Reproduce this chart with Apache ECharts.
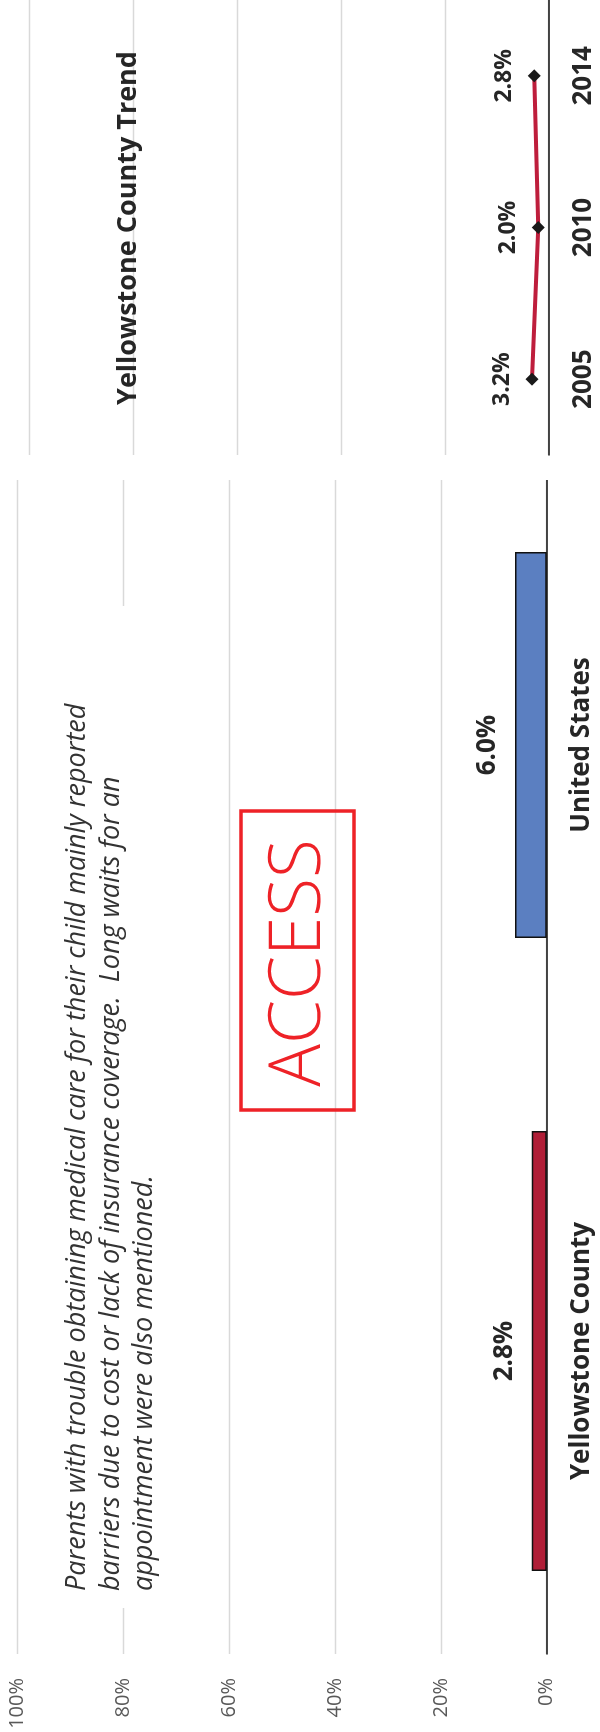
<!DOCTYPE html>
<html>
<head>
<meta charset="utf-8">
<script src="https://cdn.jsdelivr.net/npm/echarts@6/dist/echarts.min.js"></script>
<style>
  html, body { margin: 0; padding: 0; background: #fff; overflow: hidden; }
  #wrap { position: relative; width: 600px; height: 1732px; overflow: hidden; }
  /* chart is laid out landscape and turned a quarter turn counter-clockwise */
  #chart {
    position: absolute; left: 0; top: 0;
    width: 1732px; height: 600px;
    transform-origin: 0 0;
    transform: translateY(1732px) rotate(-90deg);
  }
</style>
</head>
<body>
<div id="wrap"><div id="chart"></div></div>
<script>
const categories = ['Yellowstone County', 'United States']
const barValues = [2.8, 6.0]
const barColors = ['#B01E37', '#5B7FC1']
const barWidths = [440, 386]

const trendYears = ['2005', '2010', '2014']
const trendValues = [3.2, 2.0, 2.8]

const noteLines = [
    'Parents with trouble obtaining medical care for their child mainly reported',
    'barriers due to cost or lack of insurance coverage.  Long waits for an',
    'appointment were also mentioned.',
]

const FONT = '"Open Sans", "Segoe UI", sans-serif'
const pct = (v) => v.toFixed(1) + '%'

const chart = echarts.init(document.getElementById('chart'), null, { renderer: 'canvas' })

const boldLabel = (size) => ({ fontFamily: FONT, fontWeight: 'bold', fontSize: size, color: '#262626' })

const barSeries = barValues.map((value, i) => ({
    type: 'bar',
    xAxisIndex: i,
    yAxisIndex: 0,
    barWidth: barWidths[i],
    z: 2,
    data: barValues.map((v, j) => (j === i ? v : '-')),
    itemStyle: { color: barColors[i], borderColor: '#111', borderWidth: 1.5 },
    label: {
        show: true,
        position: 'top',
        distance: 14,
        formatter: (p) => pct(p.value),
        ...boldLabel(26),
    },
    silent: true,
}))

const gridLine = { lineStyle: { color: '#d9d9d9', width: 1.3 } }

const option = {
    animation: false,
    backgroundColor: '#fff',
    title: {
        text: 'Yellowstone County Trend',
        left: 1504,
        top: 115,
        padding: 0,
        textAlign: 'center',
        textStyle: boldLabel(27),
    },
    grid: [
        { left: 78, width: 1212, top: 17.2, bottom: 53.3 },
        { left: 1277, width: 456, top: 29.7, bottom: 51.3 },
    ],
    xAxis: [
        {
            type: 'category', gridIndex: 0, data: categories,
            axisLine: { lineStyle: { color: '#111', width: 1.5 } },
            axisTick: { show: false },
            axisLabel: { margin: 22, ...boldLabel(26) },
        },
        { type: 'category', gridIndex: 0, data: categories, show: false },
        {
            type: 'category', gridIndex: 1, data: trendYears, z: 5,
            axisLine: { lineStyle: { color: '#111', width: 1.5 } },
            axisTick: { show: false },
            axisLabel: { margin: 22, ...boldLabel(26) },
        },
    ],
    yAxis: [
        {
            type: 'value', gridIndex: 0, min: 0, max: 100, interval: 20,
            axisLine: { show: false }, axisTick: { show: false },
            axisLabel: { formatter: '{value}%', margin: 24, fontFamily: FONT, fontSize: 20, color: '#595959' },
            splitLine: gridLine,
        },
        {
            type: 'value', gridIndex: 1, min: 0, max: 100, interval: 20, z: 5,
            axisLine: { show: false }, axisTick: { show: false },
            axisLabel: { show: false },
            splitLine: gridLine,
        },
    ],
    graphic: [
        // the trend panel sits on its own white card over the bar chart
        {
            type: 'rect', z: 3,
            shape: { x: 1252, y: 0, width: 480, height: 600 },
            style: { fill: '#fff' },
        },
        // white note panel hides the gridline behind it
        {
            type: 'rect', z: 50,
            shape: { x: 124, y: 45, width: 1002, height: 125 },
            style: { fill: '#fff' },
        },
        {
            type: 'text', z: 51, x: 141, y: 61,
            style: {
                text: noteLines.join('\n'),
                font: 'italic 27px ' + FONT,
                lineHeight: 33.5,
                fill: '#333',
            },
        },
        {
            type: 'rect', z: 50,
            shape: { x: 622, y: 241, width: 299, height: 113 },
            style: { fill: 'none', stroke: '#EE2227', lineWidth: 3.5 },
        },
        {
            type: 'text', z: 51, x: 769, y: 300,
            style: {
                text: 'ACCESS',
                font: '300 71px ' + FONT,
                fill: '#EE2227',
                align: 'center',
                verticalAlign: 'middle',
            },
        },
    ],
    series: [
        ...barSeries,
        {
            type: 'line',
            xAxisIndex: 2,
            yAxisIndex: 1,
            z: 6,
            data: trendValues,
            lineStyle: { color: '#BE1E3C', width: 4 },
            symbol: 'diamond',
            symbolSize: 13,
            itemStyle: { color: '#1a1a1a' },
            label: {
                show: true,
                position: 'top',
                distance: 12,
                formatter: (p) => pct(p.value),
                ...boldLabel(23),
            },
            silent: true,
        },
    ],
}

chart.setOption(option)
</script>
</body>
</html>
